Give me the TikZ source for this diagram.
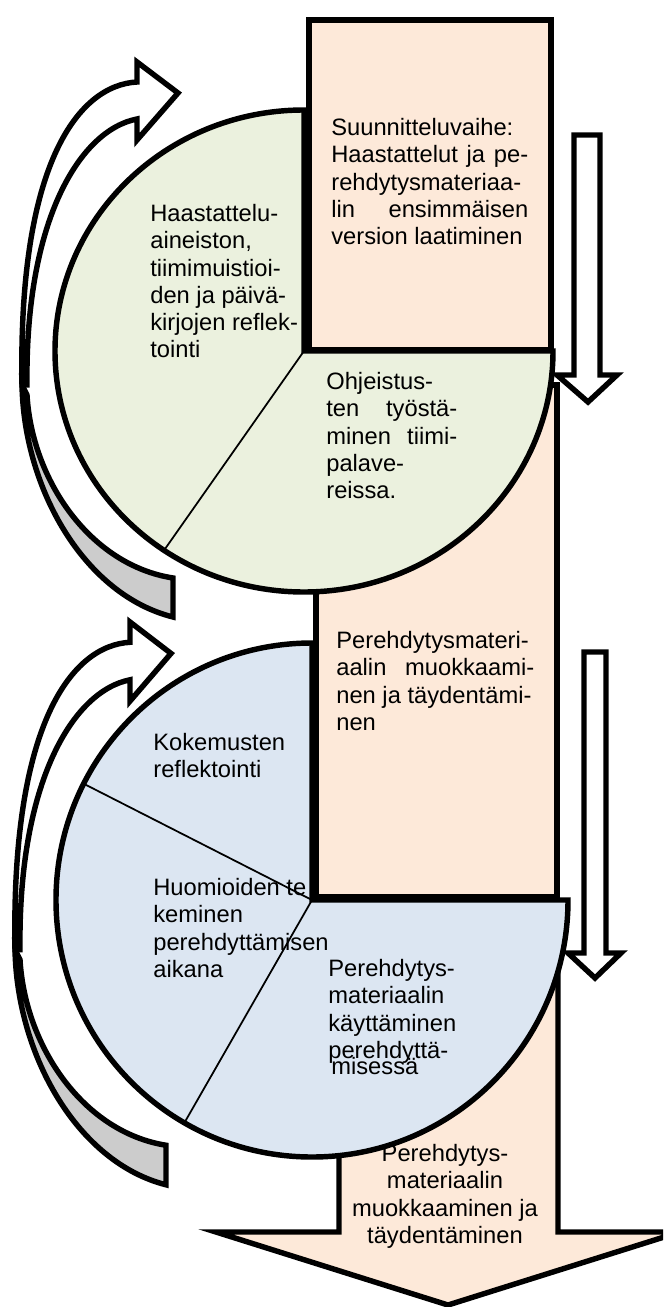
\documentclass[tikz,border=0pt]{standalone}
\usepackage{fontspec}
\setmainfont{Liberation Sans}
\usepackage{tikz}
\usetikzlibrary{calc}

\definecolor{peach}{HTML}{FDE9D9}
\definecolor{greenpie}{HTML}{EBF1DE}
\definecolor{bluepie}{HTML}{DCE6F2}
\definecolor{backgray}{HTML}{CCCCCC}
\newcommand{\lblfont}{\fontsize{13.5pt}{15.5pt}\selectfont}

\begin{document}
\begin{tikzpicture}[x=0.02cm, y=-0.02cm,
    outline/.style={draw=black, line width=3.1pt},
    thinline/.style={draw=black, line width=1pt},
    lbl/.style={inner sep=0pt, font=\lblfont, align=left, anchor=north west,
      execute at begin node=\strut}]

  % Frame
  \useasboundingbox (0,0) rectangle (663,1307);
  \clip (0,0) rectangle (663,1307);

  % Cycle arrows on the left (white front, gray back)
  \foreach \dx/\dy/\s in {0/62/1, -7/622/1.014} {
    \begin{scope}[shift={(\dx,\dy)}, yscale=\s, shift={(0,-62)}]
      \filldraw[outline, fill=backgray] (22,385) .. controls (24,490) and (85,595) .. (173,617)
        -- (173,578) .. controls (90,565) and (32,480) .. (27,395) -- cycle;
      \filldraw[outline, fill=white] (137,82) .. controls (80,85) and (18,160) .. (22,385)
        -- (27,385) .. controls (25,220) and (80,130) .. (137,119)
        -- (137,140) -- (178,93) -- (137,62) -- cycle;
    \end{scope}
  }

  % Big arrow at the bottom
  \filldraw[outline, fill=peach] (339,950) -- (558,950) -- (558,1232) -- (680,1232)
    -- (448,1305) -- (216,1232) -- (339,1232) -- cycle;
  \node[lbl, align=center, anchor=north] (edit2) at (445,1144)
    {Perehdytys-\\materiaalin\\muokkaaminen ja\\täydentäminen};

  % Lower pie
  \coordinate (c2) at (312,900);
  \fill[bluepie] (c2) -- ++(0,-257) arc[start angle=270, end angle=0, x radius=256, y radius=257] -- cycle;
  \node[lbl] (exper) at (153,733) {Kokemusten\\reflektointi};
  \node[lbl] (notes) at (153,878) {Huomioiden te\\keminen\\perehdyttämisen\\aikana};
  \node[lbl] (use) at (328,959)
    {Perehdytys-\\materiaalin\\käyttäminen\\perehdyttä-\\[-6.5pt]\hspace*{1.7pt}misessä};
  \draw[thinline] (c2) -- ++(206.9:256 and 257);
  \draw[thinline] (c2) -- ++(119.9:256 and 257);
  \draw[outline] (c2) -- ++(0,-257) arc[start angle=270, end angle=0, x radius=256, y radius=257] -- cycle;

  % Middle box
  \filldraw[outline, fill=peach] (316,385) rectangle (557,897);
  \node[lbl] (edit1) at (336,631)
    {Perehdytysmateri-\\\makebox[3.96cm][s]{aalin muokkaami-}\\nen ja täydentämi-\\nen};

  % Upper pie
  \coordinate (c1) at (304,351);
  \fill[greenpie] (c1) -- ++(0,-241) arc[start angle=270, end angle=0, x radius=249, y radius=241] -- cycle;
  \node[lbl] (review) at (150,204)
    {Haastattelu-\\aineiston,\\tiimimuistioi-\\den ja päivä-\\kirjojen reflek-\\tointi};
  \node[lbl] (guide) at (326,372)
    {Ohjeistus-\\\makebox[2.62cm][s]{ten työstä-}\\\makebox[2.62cm][s]{minen tiimi-}\\palave-\\reissa.};
  \draw[thinline] (c1) -- ++(124.2:249 and 241);
  \draw[outline] (c1) -- ++(0,-241) arc[start angle=270, end angle=0, x radius=249, y radius=241] -- cycle;

  % Top box
  \filldraw[outline, fill=peach] (309,20) rectangle (551,350);
  \node[lbl] (plan) at (331,118)
    {Suunnitteluvaihe:\\\makebox[3.94cm][s]{Haastattelut ja pe-}\\rehdytysmateriaa-\\\makebox[3.94cm][s]{lin ensimmäisen}\\version laatiminen};

  % Down arrows on the right
  \filldraw[outline, fill=white] (574,135) -- (600,135) -- (600,375) -- (617,375)
    -- (588,402) -- (557,375) -- (574,375) -- cycle;
  \filldraw[outline, fill=white] (584,652) -- (606,652) -- (606,953) -- (621,953)
    -- (595,978) -- (568,953) -- (584,953) -- cycle;

\end{tikzpicture}
\end{document}
